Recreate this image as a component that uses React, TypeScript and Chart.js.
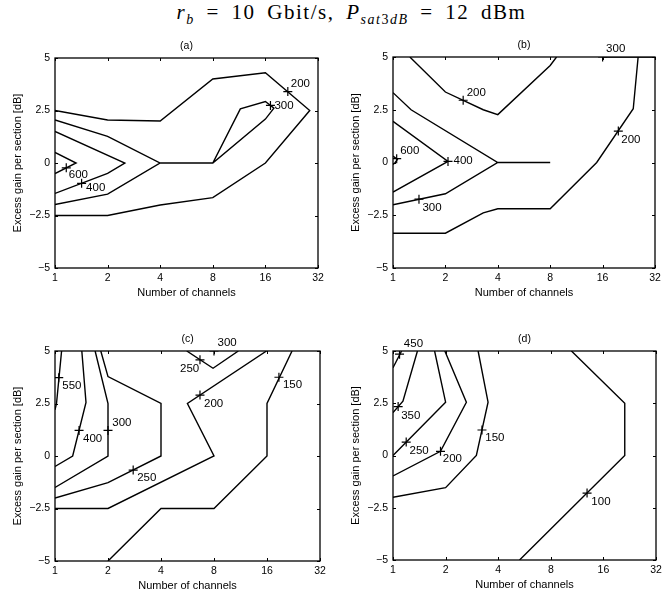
import React, { useEffect, useRef } from "react";
import { Chart, registerables } from "chart.js";
Chart.register(...registerables);

type Pt = [number, number];

// Axis ticks
const xTicks = [1, 2, 4, 8, 16, 32];
const yTicks = [-5, -2.5, 0, 2.5, 5];

// ---------- Panel (a) contours: [channels, excess gain dB]
const a200: Pt[] = [[1, 2.5], [2, 2.05], [4, 2.0], [8, 4.0], [16, 4.3], [28.7, 2.5], [16, 0], [8, -1.65], [4, -2.0], [2, -2.5], [1, -2.5]];
const a300: Pt[] = [[1, 2.05], [2, 1.27], [4, 0], [8, 0], [11.5, 2.58], [16, 2.93], [17.9, 2.61], [16, 2.09], [8, 0], [4, 0], [2, -1.48], [1, -1.98]];
const a400: Pt[] = [[1, 1.5], [2.51, 0], [2, -0.49], [1, -1.45]];
const a600: Pt[] = [[1, 0.5], [1.32, 0], [1, -0.5]];
const aLabelText = ["200", "300", "600", "400"];
const aLabelX = [21.5, 17.1, 1.16, 1.42];
const aLabelY = [3.4, 2.74, -0.23, -0.97];

// ---------- Panel (b)
const b200top: Pt[] = [[1.25, 5], [2, 3.34], [3.3, 2.5], [4, 2.27], [8, 4.6], [8.7, 5]];
const b300: Pt[] = [[1, 3.31], [1.27, 2.5], [4, 0], [8, 0], [4, 0], [2, -1.48], [1, -2.0]];
const b300top: Pt[] = [[16, 5], [32, 5]];
const b400: Pt[] = [[1, 1.95], [2.07, 0.05], [1, -1.4]];
const b600: Pt[] = [[1, 0.3], [1.06, 0.15], [1.03, 0], [1, -0.1]];
const b200out: Pt[] = [[1, -3.35], [2, -3.35], [3.3, -2.39], [4, -2.19], [8, -2.19], [14.8, 0], [24, 2.55], [25.6, 5]];
const bLabelText = ["200", "400", "600", "300", "200", "300"];
const bLabelX = [2.53, 2.07, 1.05, 1.41, 19.7, 16];
const bLabelY = [2.95, 0.05, 0.18, -1.74, 1.49, 5];

// ---------- Panel (c)
const c550: Pt[] = [[1.09, 5], [1.02, 2.5], [1, 2.2]];
const c400: Pt[] = [[1.42, 5], [1.5, 2.55], [1.26, 0], [1, -0.5]];
const c300: Pt[] = [[1.69, 5], [2, 2.5], [2, 0], [1, -1.5]];
const c250: Pt[] = [[1.82, 5], [2, 3.78], [4, 2.5], [4, 0], [2, -1.27], [1, -2.0]];
const c250top: Pt[] = [[5.6, 5], [7.9, 4.18], [11, 5]];
const c200: Pt[] = [[1, -2.5], [2, -2.5], [8, 0], [5.65, 2.5], [15.9, 5]];
const c150: Pt[] = [[2, -5], [4, -2.5], [8, -2.5], [16, 0], [16, 2.5], [22.2, 5]];
const cLabelText = ["550", "400", "300", "250", "200", "250", "300", "150"];
const cLabelX = [1.05, 1.37, 2, 2.78, 6.66, 6.66, 8, 18.7];
const cLabelY = [3.73, 1.22, 1.22, -0.67, 2.9, 4.58, 5, 3.75];

// ---------- Panel (d)
const d450: Pt[] = [[1, 4.2], [1.12, 5]];
const d350: Pt[] = [[1.38, 5], [1.14, 2.6], [1, 2.05]];
const d250: Pt[] = [[1.73, 5], [2, 2.55], [1, 0]];
const d200: Pt[] = [[1.98, 5], [2.63, 2.55], [1.87, 0.2], [1, -0.98]];
const d150: Pt[] = [[3.07, 5], [3.5, 2.55], [3.0, 0], [2, -1.54], [1, -2.0]];
const d100: Pt[] = [[10.5, 5], [21.2, 2.5], [21.2, 0], [5.3, -5]];
const dLabelText = ["450", "350", "250", "200", "150", "100"];
const dLabelX = [1.09, 1.07, 1.19, 1.87, 3.23, 12.9];
const dLabelY = [4.85, 2.34, 0.64, 0.2, 1.22, -1.8];

// Label text offsets from the "+" marker in pixels (layout only)
const aOffsets: Pt[] = [[3, -8], [4, 0], [2.5, 7], [4.5, 4.5]];
const bOffsets: Pt[] = [[3.5, -7.5], [5.5, -0.5], [3.5, -7.5], [3.5, 9], [3, 8.5], [3.5, -8.5]];
const cOffsets: Pt[] = [[3.5, 8.5], [4, 8.3], [4.3, -7.3], [4, 7.7], [4, 8.3], [-20, 9], [3.5, -7.7], [4, 8]];
const dOffsets: Pt[] = [[4.3, -10.5], [3, 9], [3.3, 9], [2.3, 8], [3.3, 8], [4.3, 8.7]];

const SANS = "'Liberation Sans', Arial, Helvetica, sans-serif";
const PAD_L = 55, PAD_R = 15, PAD_T = 28, PAD_B = 32;

interface PanelProps {
  title: string;
  plotLeft: number;
  plotTop: number;
  plotW: number;
  plotH: number;
  lines: Pt[][];
  labelText: string[];
  labelX: number[];
  labelY: number[];
  offsets: Pt[];
}

function Panel(p: PanelProps) {
  const ref = useRef<HTMLCanvasElement>(null);
  useEffect(() => {
    if (!ref.current) return;
    const decor = {
      id: "decor",
      afterDatasetsDraw(chart: any) {
        const { ctx, chartArea: ca, scales } = chart;
        const xs = scales.x, ys = scales.y;
        ctx.save();
        // box
        ctx.strokeStyle = "#000";
        ctx.lineWidth = 1.3;
        ctx.strokeRect(ca.left, ca.top, ca.right - ca.left, ca.bottom - ca.top);
        // inward ticks on all sides
        ctx.lineWidth = 1;
        const tl = 3;
        ctx.beginPath();
        xTicks.forEach((v) => {
          const px = Math.round(xs.getPixelForValue(v)) + 0.5;
          ctx.moveTo(px, ca.bottom); ctx.lineTo(px, ca.bottom - tl);
          ctx.moveTo(px, ca.top); ctx.lineTo(px, ca.top + tl);
        });
        yTicks.forEach((v) => {
          const py = Math.round(ys.getPixelForValue(v)) + 0.5;
          ctx.moveTo(ca.left, py); ctx.lineTo(ca.left + tl, py);
          ctx.moveTo(ca.right, py); ctx.lineTo(ca.right - tl, py);
        });
        ctx.stroke();
        // contour labels
        ctx.fillStyle = "#000";
        ctx.font = `11.5px ${SANS}`;
        ctx.textAlign = "left";
        ctx.textBaseline = "middle";
        p.labelText.forEach((t, i) => {
          const px = xs.getPixelForValue(p.labelX[i]) + p.offsets[i][0];
          const py = ys.getPixelForValue(p.labelY[i]) + p.offsets[i][1];
          ctx.fillText(t, px, py);
        });
        // panel title
        ctx.font = `10.5px ${SANS}`;
        ctx.textAlign = "center";
        ctx.fillText(p.title, (ca.left + ca.right) / 2, ca.top - 12);
        ctx.restore();
      },
    };
    const chart = new Chart(ref.current, {
      type: "scatter",
      data: {
        datasets: [
          ...p.lines.map((l) => ({
            data: l.map(([x, y]) => ({ x, y })),
            showLine: true,
            borderColor: "#000",
            backgroundColor: "#000",
            borderWidth: 1.4,
            pointRadius: 0,
            tension: 0,
            fill: false,
          })),
          {
            data: p.labelX.map((x, i) => ({ x, y: p.labelY[i] })),
            showLine: false,
            pointStyle: "cross",
            pointRadius: 4.5,
            borderColor: "#000",
            backgroundColor: "#000",
            borderWidth: 1.2,
          },
        ],
      } as any,
      options: {
        animation: false,
        responsive: false,
        maintainAspectRatio: false,
        layout: { padding: { left: 0, right: PAD_R, top: PAD_T, bottom: 0 } },
        plugins: { legend: { display: false }, tooltip: { enabled: false }, title: { display: false } },
        scales: {
          x: {
            type: "logarithmic",
            min: 1,
            max: 32,
            position: "bottom",
            afterBuildTicks: (s: any) => { s.ticks = xTicks.map((v) => ({ value: v })); },
            afterFit: (s: any) => { s.height = PAD_B; },
            grid: { display: false, drawTicks: false },
            border: { display: false },
            ticks: {
              autoSkip: false,
              maxRotation: 0,
              padding: 4,
              color: "#000",
              font: { size: 10.5, family: SANS },
              callback: (v: any) => String(v),
            },
            title: {
              display: true,
              text: "Number of channels",
              color: "#000",
              font: { size: 11, family: SANS },
              padding: { top: 0, bottom: 0 },
            },
          },
          y: {
            type: "linear",
            min: -5,
            max: 5,
            afterBuildTicks: (s: any) => { s.ticks = yTicks.map((v) => ({ value: v })); },
            afterFit: (s: any) => { s.width = PAD_L; },
            grid: { display: false, drawTicks: false },
            border: { display: false },
            ticks: {
              padding: 5,
              color: "#000",
              font: { size: 10.5, family: SANS },
              callback: (v: any) => (Number(v) < 0 ? "\u2212" + Math.abs(Number(v)) : String(v)),
            },
            title: {
              display: true,
              text: "Excess gain per section [dB]",
              color: "#000",
              font: { size: 11, family: SANS },
              padding: { top: 11, bottom: 0 },
            },
          },
        },
      } as any,
      plugins: [decor],
    });
    return () => chart.destroy();
  }, []);
  const w = p.plotW + PAD_L + PAD_R;
  const h = p.plotH + PAD_T + PAD_B;
  return (
    <canvas
      ref={ref}
      width={w}
      height={h}
      style={{ position: "absolute", left: p.plotLeft - PAD_L, top: p.plotTop - PAD_T, width: w, height: h }}
    />
  );
}

export default function App() {
  return (
    <div style={{ position: "absolute", left: 0, top: 0, width: 667, height: 595, background: "#fff", overflow: "hidden" }}>
      <div
        style={{
          position: "absolute",
          left: 0,
          top: 0,
          width: 703,
          textAlign: "center",
          fontFamily: "'Liberation Serif', 'DejaVu Serif', serif",
          fontSize: 21,
          lineHeight: "24px",
          letterSpacing: "1.5px",
          wordSpacing: "5px",
          color: "#000",
          whiteSpace: "nowrap",
        }}
      >
        <i>r</i>
        <sub style={{ fontSize: 14, lineHeight: 0 }}><i>b</i></sub> = 10 Gbit/s, <i>P</i>
        <sub style={{ fontSize: 14, lineHeight: 0 }}><i>sat</i>3<i>dB</i></sub> = 12 dBm
      </div>
      <Panel title="(a)" plotLeft={55} plotTop={58} plotW={263} plotH={210}
        lines={[a200, a300, a400, a600]} labelText={aLabelText} labelX={aLabelX} labelY={aLabelY} offsets={aOffsets} />
      <Panel title="(b)" plotLeft={393} plotTop={57} plotW={262} plotH={211}
        lines={[b200top, b300, b300top, b400, b600, b200out]} labelText={bLabelText} labelX={bLabelX} labelY={bLabelY} offsets={bOffsets} />
      <Panel title="(c)" plotLeft={55} plotTop={351} plotW={265} plotH={210}
        lines={[c550, c400, c300, c250, c250top, c200, c150]} labelText={cLabelText} labelX={cLabelX} labelY={cLabelY} offsets={cOffsets} />
      <Panel title="(d)" plotLeft={393} plotTop={351} plotW={263} plotH={209}
        lines={[d450, d350, d250, d200, d150, d100]} labelText={dLabelText} labelX={dLabelX} labelY={dLabelY} offsets={dOffsets} />
    </div>
  );
}
